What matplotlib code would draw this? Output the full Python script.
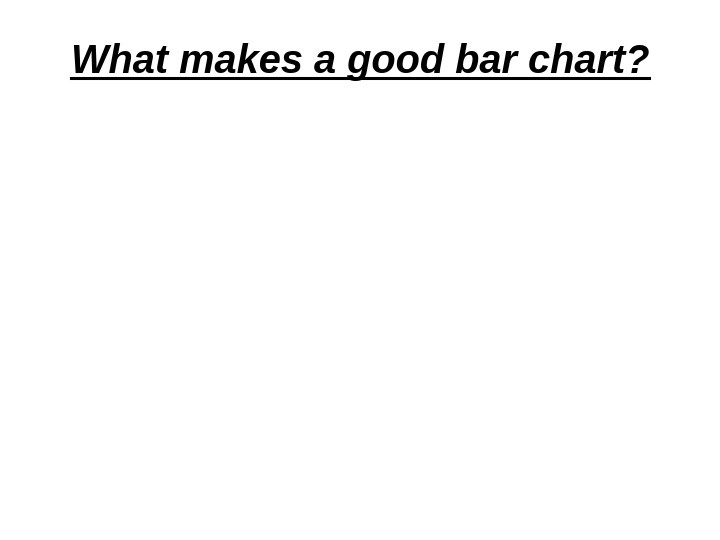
import matplotlib.pyplot as plt

title = "What makes a good bar chart?"

fig = plt.figure(figsize=(7.2, 5.4), dpi=100)
fig.patch.set_facecolor('white')

t = fig.text(0.5, 1 - 73 / 540, title, ha='center', va='baseline',
             fontsize=28.6, fontweight='bold', fontstyle='italic',
             family=['Liberation Sans', 'DejaVu Sans'], color='black')

# matplotlib has no underline, so draw one under the text box
fig.canvas.draw()
bb = t.get_window_extent(renderer=fig.canvas.get_renderer())
y_line = 1 - 77.5 / 540
fig.add_artist(plt.Line2D([bb.x0 / 720, bb.x1 / 720], [y_line, y_line],
                          transform=fig.transFigure, color='black', lw=2.2))

fig.savefig('out.png', dpi=100)
